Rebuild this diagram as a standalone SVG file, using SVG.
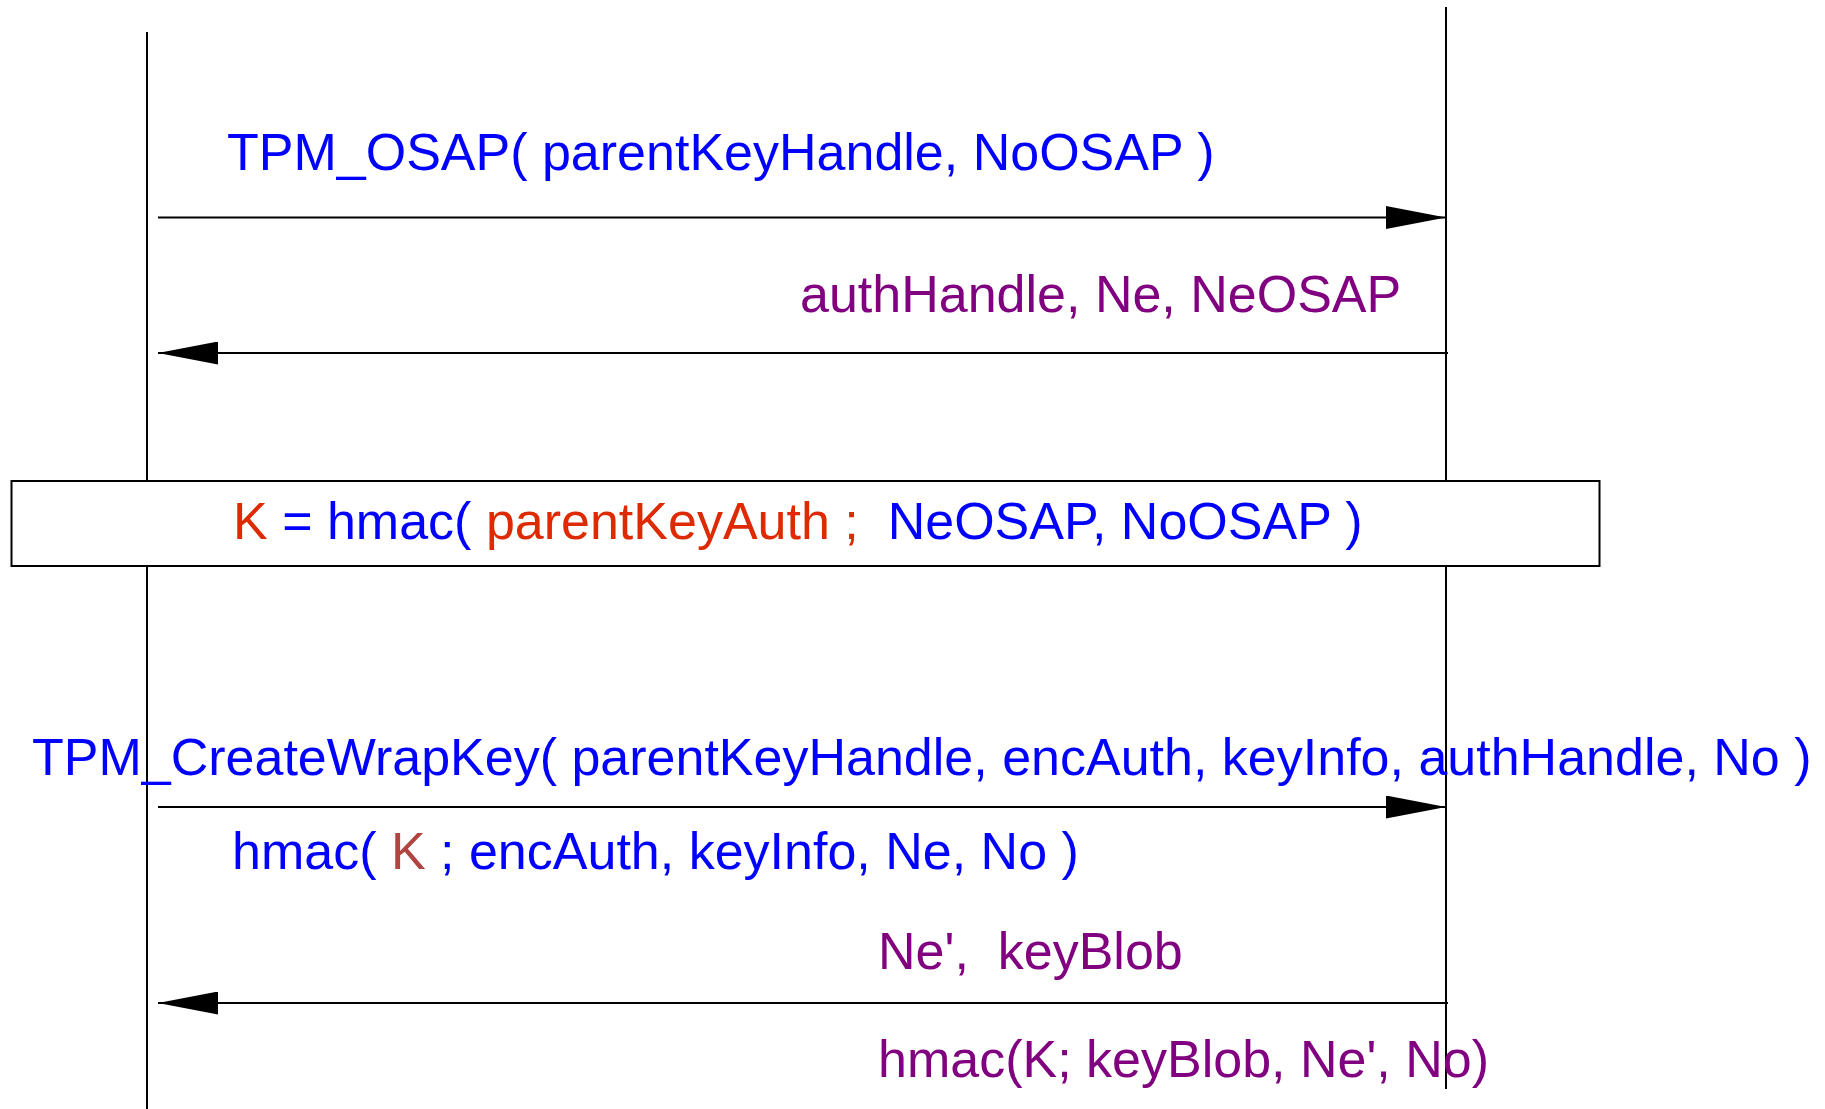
<svg xmlns="http://www.w3.org/2000/svg" width="1825" height="1109" viewBox="0 0 1825 1109">
  <style>
    .life { stroke: #000; stroke-width: 2; fill: none; }
    .msg { stroke: #000; stroke-width: 1.8; fill: none; marker-end: url(#head); }
    .lbl { font-family: "Liberation Sans", Arial, sans-serif; font-size: 52px; }
    .blue { fill: #0000ff; }
    .purple { fill: #800080; }
    .red { fill: #dd2a00; }
    .brown { fill: #b04440; }
    .box { fill: #fff; stroke: #000; stroke-width: 2; }
  </style>
  <defs>
    <marker id="head" markerUnits="userSpaceOnUse" markerWidth="60" markerHeight="23" refX="60" refY="11.5" orient="auto">
      <path d="M0,0 L60,11.5 L0,23 Z" fill="#000"/>
    </marker>
  </defs>
  <rect width="1825" height="1109" fill="#fff"/>

  <!-- lifelines -->
  <g id="lifelines">
    <line class="life" x1="147" y1="32" x2="147" y2="1109"/>
    <line class="life" x1="1446" y1="7" x2="1446" y2="1089"/>
  </g>

  <!-- messages -->
  <g id="connectors">
    <line class="msg" x1="158" y1="217.5" x2="1446" y2="217.5"/>
    <line class="msg" x1="1448" y1="353" x2="158" y2="353"/>
    <line class="msg" x1="158" y1="807" x2="1446" y2="807"/>
    <line class="msg" x1="1448" y1="1003" x2="158" y2="1003"/>
  </g>

  <g id="osap-request">
    <text class="lbl blue" x="227" y="170">TPM_OSAP( parentKeyHandle, NoOSAP )</text>
  </g>

  <g id="osap-response">
    <text class="lbl purple" x="800" y="312">authHandle, Ne, NeOSAP</text>
  </g>

  <g id="shared-secret">
    <rect class="box" x="11.5" y="481" width="1588" height="85"/>
    <text class="lbl" x="233" y="539" xml:space="preserve"><tspan class="red">K</tspan><tspan class="blue"> = hmac( </tspan><tspan class="red">parentKeyAuth ; </tspan><tspan class="blue"> NeOSAP, NoOSAP )</tspan></text>
  </g>

  <g id="createwrapkey-request">
    <text class="lbl blue" x="32" y="775">TPM_CreateWrapKey( parentKeyHandle, encAuth, keyInfo, authHandle, No )</text>
    <text class="lbl" x="232" y="869"><tspan class="blue">hmac( </tspan><tspan class="brown">K</tspan><tspan class="blue"> ; encAuth, keyInfo, Ne, No )</tspan></text>
  </g>

  <g id="createwrapkey-response">
    <text class="lbl purple" x="878" y="969" xml:space="preserve">Ne',  keyBlob</text>
    <text class="lbl purple" x="878" y="1077">hmac(K; keyBlob, Ne', No)</text>
  </g>
</svg>
